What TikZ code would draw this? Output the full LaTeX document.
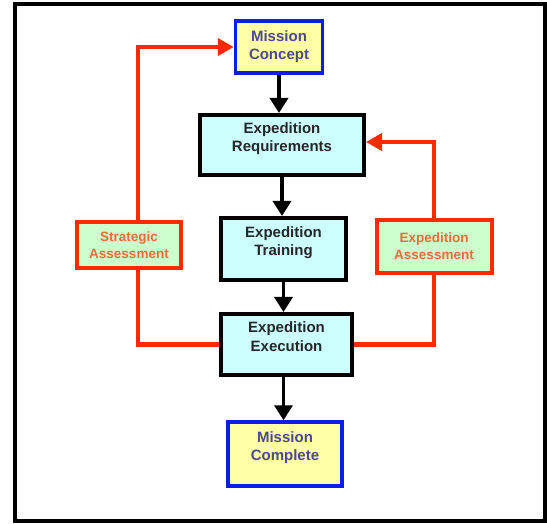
\documentclass[tikz,border=0pt]{standalone}
\usepackage{fontspec}
\setmainfont{Liberation Sans}
\usetikzlibrary{arrows.meta,backgrounds}
\definecolor{plancyan}{HTML}{CCFFFF}
\definecolor{planyellow}{HTML}{FFFFA8}
\definecolor{plangreen}{HTML}{CCFFCC}
\definecolor{loopred}{HTML}{FF2A00}
\definecolor{edgeblue}{HTML}{0A1EE6}
\definecolor{textblue}{HTML}{4A4A8C}
\definecolor{textorange}{HTML}{F06A3A}
\begin{document}
\begin{tikzpicture}[x=1pt,y=-1pt,
    phase/.style={draw,line width=4pt,fill=plancyan,align=center,inner sep=0pt,
      font=\fontsize{15}{18}\selectfont\bfseries,text=black!85,
      text height=29pt,text depth=16pt},
    mission/.style={draw=edgeblue,line width=3.5pt,fill=planyellow,align=center,inner sep=0pt,
      font=\fontsize{15}{18}\selectfont\bfseries,text=textblue},
    review/.style={draw=loopred,line width=4pt,fill=plangreen,align=center,inner sep=0pt,
      font=\fontsize{13.5}{17}\selectfont\bfseries,text=textorange},
    flow/.style={line width=3.5pt,-{Triangle[width=18pt,length=15pt]}},
    feedback/.style={draw=loopred,line width=4.5pt},
    redtip/.style={-{Triangle[width=17pt,length=16pt]}}]
  \useasboundingbox (0,0) rectangle (547,524);
  \draw[line width=4pt] (15,4) rectangle (545,521);
  \path
    (279,47) node[mission,minimum width=87pt,minimum height=52pt] (concept) {Mission\\Concept}
    (282,145) node[phase,minimum width=164pt,minimum height=60pt] (req) {Expedition\\Requirements}
    (283.5,249) node[phase,minimum width=125pt,minimum height=62pt] (train) {Expedition\\Training}
    (286.5,344.5) node[phase,minimum width=131pt,minimum height=61pt] (exec) {Expedition\\Execution}
    (285,454) node[mission,minimum width=114pt,minimum height=64pt,
      text height=29pt,text depth=16pt] (complete) {Mission\\Complete}
    (129,245) node[review,minimum width=104pt,minimum height=46pt] (strat) {Strategic\\Assessment}
    (434,246.5) node[review,minimum width=115pt,minimum height=53pt] (expass) {Expedition\\Assessment};
  \begin{pgfonlayer}{background}
    \draw[feedback] (exec.west) -| ([xshift=9pt]strat.south);
    \draw[feedback,redtip] ([xshift=9pt]strat.north) |- (concept.west);
    \draw[feedback] (exec.east) -| (expass.south);
    \draw[feedback,redtip] (expass.north) |- ([yshift=3pt]req.east);
  \end{pgfonlayer}
  \begin{scope}[flow]
    \draw (concept.south) -- (concept.south |- req.north);
    \draw (req.south) -- (req.south |- train.north);
    \draw (train.south) -- (train.south |- exec.north);
    \draw (exec.south -| train.south) -- (train.south |- complete.north);
  \end{scope}
\end{tikzpicture}
\end{document}
